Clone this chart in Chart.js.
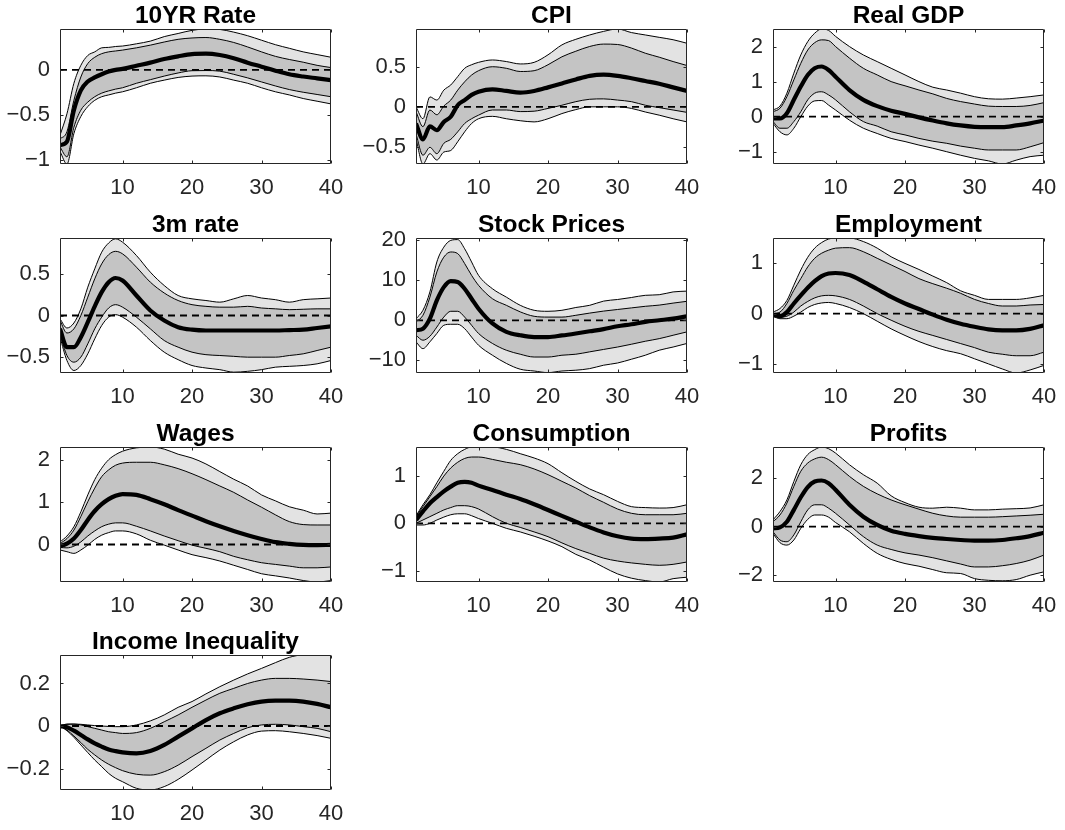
<!DOCTYPE html>
<html><head><meta charset="utf-8">
<script src="https://cdn.jsdelivr.net/npm/chart.js@4.4.1/dist/chart.umd.min.js"></script>
<style>
html,body{margin:0;padding:0;background:#fff;}
#wrap{position:relative;width:1065px;height:830px;overflow:hidden;background:#fff;}
#wrap canvas{position:absolute;}
</style></head><body><div id="wrap"></div>
<script>
// ---------------- DATA ----------------
const horizons = [1,2,3,4,5,6,7,8,9,10,12,14,16,18,20,22,24,26,28,30,32,34,36,38,40];
const xTicks = [10,20,30,40];
const titles = ["10YR Rate","CPI","Real GDP","3m rate","Stock Prices","Employment","Wages","Consumption","Profits","Income Inequality"];

// 10YR Rate
const rate10_lo90 = [-0.91,-1.05,-0.71,-0.52,-0.41,-0.34,-0.30,-0.28,-0.26,-0.245,-0.20,-0.15,-0.115,-0.085,-0.07,-0.067,-0.08,-0.115,-0.15,-0.20,-0.245,-0.28,-0.32,-0.35,-0.38];
const rate10_lo68 = [-0.86,-0.97,-0.64,-0.45,-0.36,-0.30,-0.26,-0.235,-0.215,-0.20,-0.15,-0.11,-0.07,-0.035,-0.01,-0.008,-0.015,-0.05,-0.09,-0.135,-0.18,-0.22,-0.25,-0.275,-0.30];
const rate10_med  = [-0.84,-0.80,-0.45,-0.23,-0.13,-0.085,-0.05,-0.02,0,0.01,0.045,0.08,0.12,0.15,0.175,0.18,0.165,0.13,0.08,0.035,-0.01,-0.05,-0.075,-0.095,-0.115];
const rate10_hi68 = [-0.77,-0.69,-0.34,-0.08,0.07,0.14,0.18,0.20,0.21,0.22,0.245,0.275,0.31,0.34,0.355,0.36,0.34,0.305,0.255,0.20,0.15,0.115,0.085,0.05,0.025];
const rate10_hi90 = [-0.73,-0.49,-0.15,0.05,0.16,0.20,0.245,0.25,0.26,0.265,0.29,0.32,0.37,0.405,0.44,0.455,0.45,0.42,0.38,0.33,0.28,0.24,0.20,0.17,0.14];
const rate10_yLim = [-1.05, 0.455];
const rate10_yTicks = [-1,-0.5,0];

// CPI
const cpi_lo90 = [-0.40,-0.72,-0.59,-0.67,-0.57,-0.55,-0.44,-0.315,-0.21,-0.15,-0.12,-0.15,-0.175,-0.19,-0.15,-0.085,-0.035,0,0,0,-0.02,-0.065,-0.105,-0.15,-0.19];
const cpi_lo68 = [-0.34,-0.61,-0.51,-0.59,-0.46,-0.41,-0.315,-0.21,-0.15,-0.105,-0.04,-0.04,-0.06,-0.055,-0.02,0.02,0.065,0.095,0.10,0.085,0.065,0.02,-0.01,-0.04,-0.07];
const cpi_med  = [-0.21,-0.41,-0.245,-0.295,-0.19,-0.125,0.02,0.085,0.15,0.19,0.22,0.20,0.18,0.20,0.245,0.295,0.345,0.39,0.405,0.39,0.36,0.325,0.29,0.245,0.20];
const cpi_hi68 = [-0.06,-0.25,-0.04,-0.10,0.01,0.085,0.21,0.315,0.40,0.455,0.505,0.485,0.445,0.455,0.53,0.63,0.70,0.76,0.79,0.785,0.74,0.675,0.625,0.57,0.52];
const cpi_hi90 = [0,-0.15,0.125,0.085,0.21,0.275,0.38,0.485,0.53,0.56,0.59,0.57,0.54,0.56,0.655,0.78,0.85,0.905,0.95,0.98,0.935,0.905,0.875,0.845,0.80];
const cpi_yLim = [-0.72, 0.98];
const cpi_yTicks = [-0.5,0,0.5];

// Real GDP
const gdp_lo90 = [-0.19,-0.43,-0.52,-0.33,0,0.30,0.45,0.46,0.33,0.19,-0.10,-0.33,-0.48,-0.62,-0.71,-0.81,-0.90,-1.00,-1.10,-1.19,-1.26,-1.35,-1.24,-1.14,-1.10];
const gdp_lo68 = [-0.14,-0.33,-0.33,-0.14,0.14,0.48,0.67,0.71,0.62,0.48,0.14,-0.14,-0.27,-0.43,-0.52,-0.62,-0.70,-0.76,-0.84,-0.90,-0.95,-0.95,-0.95,-0.86,-0.74];
const gdp_med  = [-0.05,-0.05,0.10,0.48,0.86,1.19,1.38,1.43,1.33,1.14,0.76,0.48,0.30,0.17,0.08,-0.02,-0.11,-0.19,-0.25,-0.29,-0.30,-0.30,-0.25,-0.19,-0.11];
const gdp_hi68 = [0.14,0.24,0.57,1.05,1.52,1.90,2.11,2.19,2.17,2.00,1.67,1.38,1.19,1.00,0.88,0.76,0.65,0.52,0.43,0.36,0.30,0.29,0.29,0.32,0.40];
const gdp_hi90 = [0.19,0.30,0.67,1.24,1.76,2.14,2.38,2.50,2.46,2.29,2.00,1.76,1.57,1.38,1.19,1.00,0.84,0.76,0.67,0.57,0.51,0.50,0.53,0.57,0.62];
const gdp_yLim = [-1.35, 2.5];
const gdp_yTicks = [-1,0,1,2];

// 3m rate
const rate3m_lo90 = [-0.26,-0.54,-0.66,-0.60,-0.46,-0.28,-0.12,-0.02,0.01,-0.02,-0.14,-0.30,-0.44,-0.53,-0.60,-0.63,-0.65,-0.68,-0.67,-0.65,-0.62,-0.61,-0.60,-0.58,-0.54];
const rate3m_lo68 = [-0.22,-0.48,-0.56,-0.50,-0.34,-0.16,-0.02,0.09,0.13,0.10,-0.02,-0.16,-0.30,-0.38,-0.44,-0.47,-0.48,-0.49,-0.50,-0.50,-0.50,-0.48,-0.46,-0.42,-0.38];
const rate3m_med  = [-0.16,-0.38,-0.38,-0.26,-0.08,0.11,0.28,0.40,0.45,0.42,0.24,0.06,-0.06,-0.14,-0.17,-0.18,-0.18,-0.18,-0.18,-0.18,-0.18,-0.175,-0.17,-0.15,-0.13];
const rate3m_hi68 = [-0.06,-0.21,-0.16,0,0.22,0.44,0.62,0.73,0.77,0.74,0.58,0.40,0.27,0.18,0.13,0.11,0.10,0.10,0.11,0.09,0.08,0.07,0.075,0.08,0.08];
const rate3m_hi90 = [-0.04,-0.15,-0.09,0.08,0.34,0.56,0.76,0.87,0.92,0.88,0.72,0.52,0.36,0.24,0.20,0.18,0.16,0.20,0.24,0.21,0.19,0.16,0.19,0.20,0.21];
const rate3m_yLim = [-0.69, 0.93];
const rate3m_yTicks = [-0.5,0,0.5];

// Stock Prices
const stock_lo90 = [-5.4,-7.1,-5.4,-3.3,-1.25,-1.0,-1.0,-2.1,-4.2,-6.25,-8.75,-10.8,-12.25,-12.7,-13.1,-12.7,-12.5,-12.1,-11.25,-10.7,-9.75,-8.75,-7.5,-6.7,-5.8];
const stock_lo68 = [-3.75,-5.0,-4.0,-1.7,0.8,2.25,2.25,0.8,-1.25,-3.3,-5.8,-7.5,-8.5,-9.2,-9.2,-8.75,-8.5,-7.9,-7.3,-6.7,-6.0,-5.25,-4.6,-3.75,-2.9];
const stock_med  = [-2.5,-2.1,0.4,5.0,8.3,9.8,9.6,7.9,5.4,2.9,-0.8,-2.9,-3.75,-4.2,-4.2,-3.8,-3.3,-2.75,-2.2,-1.5,-1.0,-0.4,0,0.4,1.0];
const stock_hi68 = [-0.4,1.25,5.8,12.1,15.8,17.1,16.7,14.2,11.25,8.75,5.4,3.75,2.1,1.0,0.8,0.8,1.25,1.8,2.3,2.7,3.1,3.5,3.8,4.3,4.75];
const stock_hi90 = [0.4,2.5,7.1,14.6,18.3,20.0,20.2,17.9,14.6,11.25,7.9,5.8,3.75,2.5,2.25,2.5,3.2,3.75,4.8,5.2,5.7,6.25,6.4,7.1,7.3];
const stock_yLim = [-13.2, 20.6];
const stock_yTicks = [-10,0,10,20];

// Employment
const emp_lo90 = [-0.05,-0.10,-0.10,-0.05,0.03,0.12,0.18,0.21,0.22,0.20,0.12,0,-0.15,-0.30,-0.43,-0.55,-0.65,-0.73,-0.79,-0.89,-0.99,-1.09,-1.17,-1.11,-1.02];
const emp_lo68 = [-0.03,-0.07,-0.05,0.03,0.15,0.24,0.31,0.35,0.36,0.35,0.28,0.15,0,-0.13,-0.25,-0.35,-0.43,-0.51,-0.59,-0.67,-0.76,-0.80,-0.83,-0.83,-0.76];
const emp_med  = [-0.03,-0.05,0.03,0.20,0.36,0.51,0.64,0.74,0.79,0.80,0.76,0.63,0.48,0.33,0.20,0.09,-0.02,-0.12,-0.20,-0.26,-0.31,-0.33,-0.33,-0.30,-0.23];
const emp_hi68 = [0,0.03,0.20,0.46,0.69,0.92,1.09,1.19,1.25,1.29,1.30,1.22,1.09,0.96,0.83,0.69,0.59,0.50,0.40,0.28,0.20,0.15,0.15,0.17,0.18];
const emp_hi90 = [0.03,0.10,0.26,0.56,0.86,1.11,1.29,1.40,1.47,1.49,1.49,1.42,1.29,1.12,0.99,0.87,0.74,0.61,0.45,0.36,0.28,0.28,0.28,0.31,0.36];
const emp_yLim = [-1.17, 1.49];
const emp_yTicks = [-1,0,1];

// Wages
const wage_lo90 = [-0.13,-0.17,-0.21,-0.13,-0.015,0.12,0.22,0.28,0.32,0.32,0.25,0.10,-0.015,-0.13,-0.24,-0.31,-0.39,-0.49,-0.59,-0.69,-0.74,-0.79,-0.85,-0.885,-0.85];
const wage_lo68 = [-0.07,-0.08,-0.04,0.06,0.20,0.32,0.42,0.48,0.51,0.51,0.43,0.32,0.20,0.09,-0.015,-0.09,-0.17,-0.28,-0.36,-0.43,-0.47,-0.51,-0.55,-0.55,-0.53];
const wage_med  = [-0.04,0.02,0.14,0.34,0.58,0.79,0.95,1.07,1.15,1.19,1.17,1.07,0.95,0.81,0.68,0.55,0.43,0.32,0.22,0.13,0.055,0.015,-0.01,-0.015,-0.01];
const wage_hi68 = [0.02,0.14,0.34,0.66,1.01,1.33,1.60,1.76,1.87,1.92,1.94,1.94,1.88,1.79,1.67,1.53,1.38,1.23,1.05,0.88,0.70,0.54,0.47,0.46,0.46];
const wage_hi90 = [0.06,0.20,0.42,0.77,1.17,1.53,1.80,2.00,2.12,2.20,2.28,2.30,2.25,2.13,2.04,1.90,1.72,1.54,1.38,1.17,1.03,0.89,0.81,0.72,0.74];
const wage_yLim = [-0.885, 2.3];
const wage_yTicks = [0,1,2];

// Consumption
const cons_lo90 = [-0.035,-0.035,0,0.07,0.13,0.18,0.20,0.20,0.16,0.10,0,-0.105,-0.18,-0.27,-0.37,-0.49,-0.65,-0.77,-0.92,-1.06,-1.15,-1.20,-1.23,-1.16,-1.13];
const cons_lo68 = [0,0.07,0.14,0.21,0.28,0.33,0.37,0.37,0.35,0.30,0.14,0,-0.085,-0.18,-0.28,-0.41,-0.53,-0.63,-0.73,-0.79,-0.83,-0.86,-0.88,-0.86,-0.81];
const cons_med  = [0.07,0.25,0.42,0.55,0.67,0.77,0.85,0.87,0.85,0.79,0.70,0.60,0.51,0.40,0.28,0.155,0.035,-0.085,-0.19,-0.27,-0.32,-0.33,-0.32,-0.30,-0.23];
const cons_hi68 = [0.14,0.35,0.56,0.77,0.99,1.16,1.28,1.36,1.39,1.39,1.34,1.28,1.23,1.14,1.02,0.88,0.74,0.58,0.44,0.30,0.21,0.18,0.18,0.18,0.21];
const cons_hi90 = [0.155,0.39,0.60,0.85,1.09,1.32,1.46,1.55,1.60,1.60,1.60,1.55,1.46,1.37,1.25,1.06,0.88,0.72,0.60,0.46,0.35,0.33,0.32,0.33,0.39];
const cons_yLim = [-1.23, 1.6];
const cons_yTicks = [-1,0,1];

// Profits
const prof_lo90 = [-0.28,-0.66,-0.76,-0.55,-0.07,0.30,0.48,0.48,0.39,0.17,-0.21,-0.69,-1.10,-1.35,-1.52,-1.63,-1.77,-1.90,-1.93,-2.14,-2.21,-2.23,-2.18,-2.00,-1.86];
const prof_lo68 = [-0.21,-0.55,-0.62,-0.34,0.20,0.69,0.90,0.90,0.76,0.55,0.07,-0.41,-0.76,-0.94,-1.08,-1.17,-1.28,-1.41,-1.54,-1.66,-1.66,-1.61,-1.52,-1.38,-1.17];
const prof_med  = [-0.07,-0.03,0.20,0.69,1.21,1.63,1.86,1.90,1.79,1.52,0.90,0.41,0.07,-0.17,-0.30,-0.39,-0.46,-0.51,-0.55,-0.58,-0.58,-0.55,-0.48,-0.39,-0.25];
const prof_hi68 = [0.20,0.48,0.97,1.66,2.28,2.62,2.79,2.86,2.76,2.55,2.07,1.66,1.35,1.10,0.90,0.72,0.55,0.44,0.39,0.39,0.39,0.41,0.44,0.47,0.51];
const prof_hi90 = [0.28,0.62,1.10,1.86,2.55,2.97,3.17,3.28,3.21,3.03,2.55,2.14,1.79,1.27,0.99,0.80,0.76,0.80,0.76,0.69,0.69,0.72,0.74,0.77,0.90];
const prof_yLim = [-2.28, 3.28];
const prof_yTicks = [-2,0,2];

// Income Inequality
const ineq_lo90 = [0,-0.022,-0.053,-0.089,-0.125,-0.16,-0.191,-0.223,-0.246,-0.262,-0.293,-0.301,-0.285,-0.251,-0.207,-0.16,-0.113,-0.074,-0.042,-0.024,-0.022,-0.027,-0.035,-0.045,-0.058];
const ineq_lo68 = [0,-0.019,-0.047,-0.078,-0.11,-0.136,-0.16,-0.18,-0.196,-0.21,-0.227,-0.231,-0.215,-0.184,-0.144,-0.105,-0.066,-0.035,-0.008,0.005,0.008,0.005,-0.003,-0.011,-0.027];
const ineq_med  = [0,-0.006,-0.022,-0.042,-0.063,-0.082,-0.097,-0.11,-0.118,-0.124,-0.129,-0.118,-0.089,-0.05,-0.011,0.028,0.06,0.083,0.102,0.115,0.119,0.119,0.115,0.104,0.088];
const ineq_hi68 = [0,0.008,0.009,0.005,-0.003,-0.011,-0.019,-0.027,-0.031,-0.035,-0.031,-0.011,0.02,0.052,0.088,0.122,0.154,0.177,0.20,0.216,0.224,0.224,0.221,0.216,0.209];
const ineq_hi90 = [0,0.009,0.009,0.008,0.005,0.002,0,-0.002,-0.003,-0.003,0.005,0.024,0.052,0.088,0.115,0.151,0.185,0.216,0.245,0.271,0.298,0.323,0.334,0.334,0.334];
const ineq_yLim = [-0.301, 0.334];
const ineq_yTicks = [-0.2,0,0.2];

const zeroLine = [0, 0];
const zeroLineX = [1, 40];

// ---------------- LAYOUT / STYLE ----------------
const colLeft = [60, 416, 773];
const rowTop = [29, 238, 447, 655];
const PLOT_W = 271, PLOT_H = 135;
const Y_AXIS_W = 60, TITLE_H = 29, X_AXIS_H = 41, RIGHT_PAD = 20;
const TITLE_SIZE = 24.5, TICK_SIZE = 22;
const FONT = "'Liberation Sans', Arial, Helvetica, sans-serif";
const LIGHT = '#e3e3e3', DARK = '#c4c4c4', AXIS = '#262626';

const panels = [
  [rate10_lo90, rate10_lo68, rate10_med, rate10_hi68, rate10_hi90, rate10_yLim, rate10_yTicks],
  [cpi_lo90, cpi_lo68, cpi_med, cpi_hi68, cpi_hi90, cpi_yLim, cpi_yTicks],
  [gdp_lo90, gdp_lo68, gdp_med, gdp_hi68, gdp_hi90, gdp_yLim, gdp_yTicks],
  [rate3m_lo90, rate3m_lo68, rate3m_med, rate3m_hi68, rate3m_hi90, rate3m_yLim, rate3m_yTicks],
  [stock_lo90, stock_lo68, stock_med, stock_hi68, stock_hi90, stock_yLim, stock_yTicks],
  [emp_lo90, emp_lo68, emp_med, emp_hi68, emp_hi90, emp_yLim, emp_yTicks],
  [wage_lo90, wage_lo68, wage_med, wage_hi68, wage_hi90, wage_yLim, wage_yTicks],
  [cons_lo90, cons_lo68, cons_med, cons_hi68, cons_hi90, cons_yLim, cons_yTicks],
  [prof_lo90, prof_lo68, prof_med, prof_hi68, prof_hi90, prof_yLim, prof_yTicks],
  [ineq_lo90, ineq_lo68, ineq_med, ineq_hi68, ineq_hi90, ineq_yLim, ineq_yTicks]
];

const toXY = arr => arr.map((v, i) => ({x: horizons[i], y: v}));
const fmt = v => (v < 0 ? '\u2212' : '') + String(Math.abs(v));

// centre each title over its plot box (MATLAB style) and draw the boxed axes with inward ticks
const boxTicks = {
  id: 'boxTicks',
  afterLayout(chart) {
    const t = chart.titleBlock, a = chart.chartArea;
    if (t) { t.left = a.left; t.right = a.right; t.width = a.right - a.left; }
  },
  afterDatasetsDraw(chart) {
    const {ctx, chartArea: a, scales: {x, y}} = chart;
    ctx.save();
    ctx.strokeStyle = AXIS; ctx.lineWidth = 1;
    const L = Math.round(a.left) + 0.5, R = Math.round(a.right) - 0.5;
    const T = Math.round(a.top) + 0.5, B = Math.round(a.bottom) - 0.5;
    const tl = 3;
    ctx.beginPath();
    ctx.rect(L, T, R - L, B - T);
    x.ticks.forEach(t => {
      const px = Math.round(x.getPixelForValue(t.value)) + 0.5;
      ctx.moveTo(px, B); ctx.lineTo(px, B - tl);
      ctx.moveTo(px, T); ctx.lineTo(px, T + tl);
    });
    y.ticks.forEach(t => {
      const py = Math.round(y.getPixelForValue(t.value)) + 0.5;
      ctx.moveTo(L, py); ctx.lineTo(L + tl, py);
      ctx.moveTo(R, py); ctx.lineTo(R - tl, py);
    });
    ctx.stroke();
    ctx.restore();
  }
};

const wrap = document.getElementById('wrap');
panels.forEach((p, k) => {
  const [lo90, lo68, med, hi68, hi90, yLim, yTicks] = p;
  const r = Math.floor(k / 3), c = k % 3;
  const cv = document.createElement('canvas');
  cv.width = Y_AXIS_W + PLOT_W + RIGHT_PAD;
  cv.height = TITLE_H + PLOT_H + X_AXIS_H;
  cv.style.left = (colLeft[c] - Y_AXIS_W) + 'px';
  cv.style.top = (rowTop[r] - TITLE_H) + 'px';
  cv.style.width = cv.width + 'px';
  cv.style.height = cv.height + 'px';
  wrap.appendChild(cv);

  const titleLine = TITLE_SIZE * 1.2;
  const edge = {borderColor: '#000', borderWidth: 1, pointRadius: 0, cubicInterpolationMode: 'monotone', clip: 0};
  new Chart(cv.getContext('2d'), {
    type: 'line',
    data: {
      datasets: [
        Object.assign({label: 'lo90', data: toXY(lo90), fill: false, order: 5}, edge),
        Object.assign({label: 'hi90', data: toXY(hi90), fill: 0, backgroundColor: LIGHT, order: 4}, edge),
        Object.assign({label: 'lo68', data: toXY(lo68), fill: false, order: 3}, edge),
        Object.assign({label: 'hi68', data: toXY(hi68), fill: 2, backgroundColor: DARK, order: 2}, edge),
        {label: 'zero', data: zeroLineX.map((x, i) => ({x, y: zeroLine[i]})), borderColor: '#000', borderWidth: 1.8,
         borderDash: [7, 5], pointRadius: 0, fill: false, order: 1, clip: 0},
        {label: 'median', data: toXY(med), borderColor: '#000', borderWidth: 4.2, pointRadius: 0, fill: false,
         cubicInterpolationMode: 'monotone', order: 0, clip: 0}
      ]
    },
    options: {
      responsive: false, animation: false, events: [],
      layout: {padding: {left: 0, right: RIGHT_PAD, top: 0, bottom: 0}},
      plugins: {
        legend: {display: false}, tooltip: {enabled: false},
        filler: {drawTime: 'beforeDatasetsDraw'},
        title: {display: true, text: titles[k], color: '#000',
                font: {family: FONT, size: TITLE_SIZE, weight: 'bold', lineHeight: 1.2},
                padding: {top: 2, bottom: TITLE_H - titleLine - 2}}
      },
      scales: {
        x: {type: 'linear', min: 1, max: 40,
            grid: {display: false, drawTicks: false}, border: {display: false},
            afterBuildTicks: s => { s.ticks = xTicks.map(v => ({value: v})); },
            afterFit: s => { s.height = X_AXIS_H; s.paddingLeft = 0; s.paddingRight = 0; },
            ticks: {color: AXIS, font: {family: FONT, size: TICK_SIZE}, padding: 11, maxRotation: 0,
                    callback: v => String(v)}},
        y: {type: 'linear', min: yLim[0], max: yLim[1],
            grid: {display: false, drawTicks: false}, border: {display: false},
            afterBuildTicks: s => { s.ticks = yTicks.map(v => ({value: v})); },
            afterFit: s => { s.width = Y_AXIS_W; s.paddingTop = 0; s.paddingBottom = 0; },
            ticks: {color: AXIS, font: {family: FONT, size: TICK_SIZE}, padding: 10,
                    callback: v => fmt(v)}}
      }
    },
    plugins: [boxTicks]
  });
});
</script>
</body></html>
